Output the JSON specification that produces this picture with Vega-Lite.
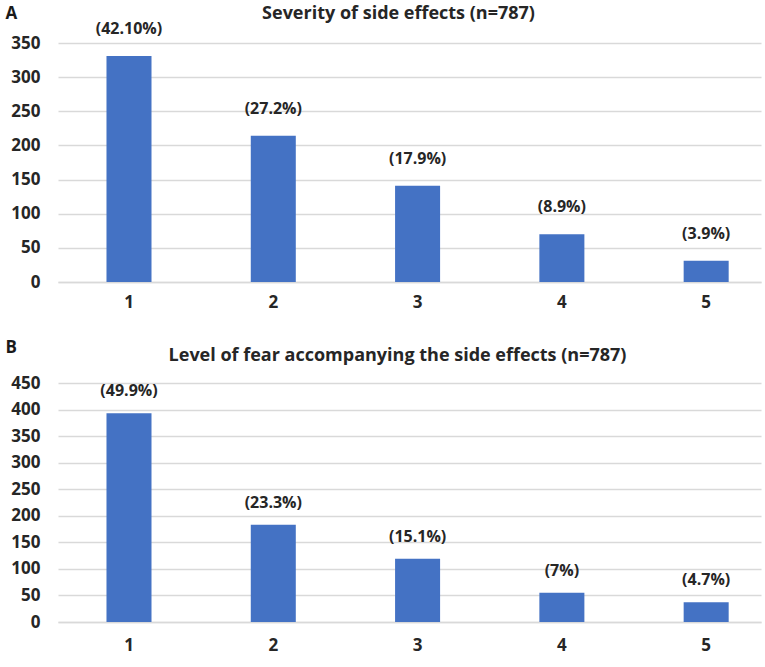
{
  "$schema": "https://vega.github.io/schema/vega-lite/v6.json",
  "description": "Severity of side effects and level of fear accompanying them, two bar panels",
  "background": "white",
  "padding": {"left": 5, "top": 4, "right": 4, "bottom": 4},
  "spacing": 28,
  "config": {
    "font": "Open Sans",
    "view": {"stroke": null},
    "axis": {
      "labelFont": "Open Sans",
      "labelFontWeight": "bold",
      "labelFontSize": 17,
      "labelColor": "#262626",
      "titleFont": "Open Sans",
      "titleFontWeight": "bold",
      "titleFontSize": 17,
      "titleColor": "#1a1a1a",
      "gridColor": "#d9d9d9",
      "gridWidth": 1.3,
      "domain": false,
      "ticks": false
    },
    "title": {"font": "Open Sans", "fontSize": 18, "fontWeight": "bold", "color": "#262626"},
    "bar": {"color": "#4472C4"},
    "text": {"font": "Open Sans", "fontWeight": "bold", "fontSize": 16, "color": "#262626"}
  },
  "data": {
    "values": [
      {"panel": "A", "level": "1", "count": 331, "label": "(42.10%)"},
      {"panel": "A", "level": "2", "count": 214, "label": "(27.2%)"},
      {"panel": "A", "level": "3", "count": 141, "label": "(17.9%)"},
      {"panel": "A", "level": "4", "count": 70, "label": "(8.9%)"},
      {"panel": "A", "level": "5", "count": 31, "label": "(3.9%)"},
      {"panel": "B", "level": "1", "count": 393, "label": "(49.9%)"},
      {"panel": "B", "level": "2", "count": 183, "label": "(23.3%)"},
      {"panel": "B", "level": "3", "count": 119, "label": "(15.1%)"},
      {"panel": "B", "level": "4", "count": 55, "label": "(7%)"},
      {"panel": "B", "level": "5", "count": 37, "label": "(4.7%)"}
    ]
  },
  "vconcat": [
    {
      "width": 703,
      "height": 239,
      "title": {"text": "Severity of side effects (n=787)", "dx": -11, "offset": -19},
      "transform": [{"filter": "datum.panel == 'A'"}],
      "encoding": {
        "x": {
          "field": "level",
          "type": "ordinal",
          "scale": {"paddingInner": 0.688, "paddingOuter": 0.28, "align": 0.6},
          "axis": {"labelAngle": 0, "title": null, "domain": true, "domainColor": "#d9d9d9", "domainWidth": 1.3, "labelPadding": 12}
        },
        "y": {
          "field": "count",
          "type": "quantitative",
          "scale": {"domain": [0, 350], "nice": false},
          "axis": {
            "values": [0, 50, 100, 150, 200, 250, 300, 350],
            "labelPadding": 18,
            "title": "A",
            "titleAngle": 0,
            "titleAlign": "left",
            "titleBaseline": "middle",
            "titleX": -53,
            "titleY": -30
          }
        }
      },
      "layer": [
        {"mark": {"type": "bar"}},
        {"mark": {"type": "text", "dy": -27}, "encoding": {"text": {"field": "label"}}}
      ]
    },
    {
      "width": 703,
      "height": 239,
      "title": {"text": "Level of fear accompanying the side effects (n=787)", "dx": -12, "offset": -27},
      "transform": [{"filter": "datum.panel == 'B'"}],
      "encoding": {
        "x": {
          "field": "level",
          "type": "ordinal",
          "scale": {"paddingInner": 0.688, "paddingOuter": 0.28, "align": 0.6},
          "axis": {"labelAngle": 0, "title": null, "domain": true, "domainColor": "#d9d9d9", "domainWidth": 1.3, "labelPadding": 15}
        },
        "y": {
          "field": "count",
          "type": "quantitative",
          "scale": {"domain": [0, 450], "nice": false},
          "axis": {
            "values": [0, 50, 100, 150, 200, 250, 300, 350, 400, 450],
            "labelPadding": 18,
            "title": "B",
            "titleAngle": 0,
            "titleAlign": "left",
            "titleBaseline": "middle",
            "titleX": -53,
            "titleY": -36
          }
        }
      },
      "layer": [
        {"mark": {"type": "bar"}},
        {"mark": {"type": "text", "dy": -22}, "encoding": {"text": {"field": "label"}}}
      ]
    }
  ]
}
